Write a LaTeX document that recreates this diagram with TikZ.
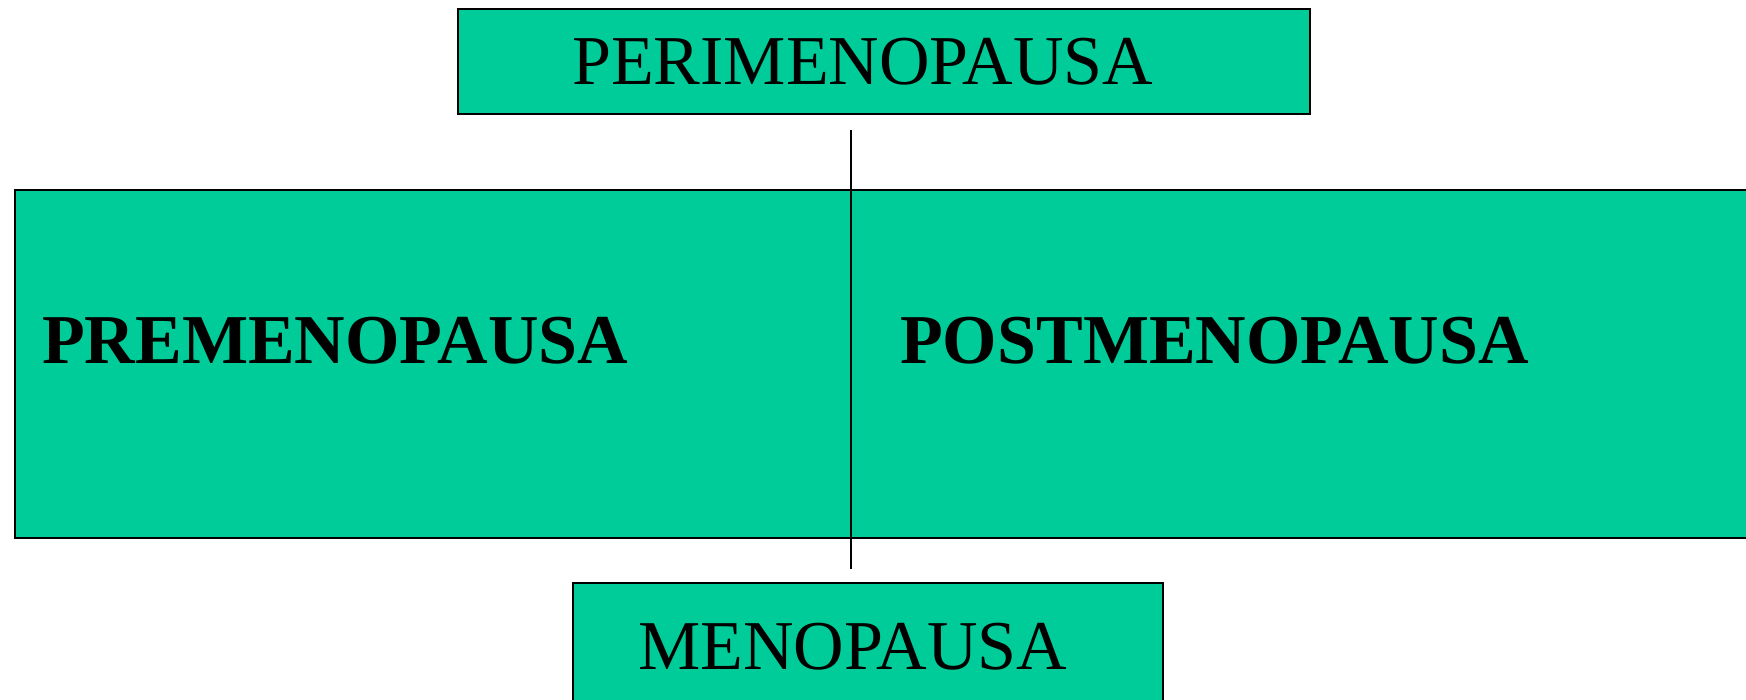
\documentclass[tikz,border=0pt]{standalone}
\usepackage{fontspec}
\setmainfont{Liberation Serif}
\definecolor{boxgreen}{RGB}{0,204,153}
\begin{document}
\begin{tikzpicture}[x=1pt,y=-1pt,
  greenbox/.style={draw=black,line width=1.6pt,fill=boxgreen,rectangle,inner sep=0pt},
  lbl/.style={anchor=base west,inner sep=0pt,font=\fontsize{70}{84}\selectfont},
  blbl/.style={anchor=base west,inner sep=0pt,font=\fontsize{70}{84}\selectfont\bfseries},
  conn/.style={draw=black,line width=1.8pt}]
\useasboundingbox (0,0) rectangle (1746,699);
\clip (0,0) rectangle (1746,699);
% boxes
\node[greenbox,minimum width=852pt,minimum height=105pt] (peri) at (884,61.5) {};
\node[greenbox,minimum width=1760pt,minimum height=348pt] (mid) at (895,364) {};
\node[greenbox,minimum width=590pt,minimum height=140pt] (meno) at (868,653) {};
% connector
\coordinate (lt) at (851,130);
\coordinate (lb) at (851,569);
\draw[conn] (lt) -- (lb);
% texts
\node[lbl] (periT) at (572,84) {PERIMENOPAUSA};
\node[blbl] (preT) at (42,363) {PREMENOPAUSA};
\node[blbl] (postT) at (900,363) {POSTMENOPAUSA};
\node[lbl] (menoT) at (638,669) {MENOPAUSA};
\end{tikzpicture}
\end{document}
